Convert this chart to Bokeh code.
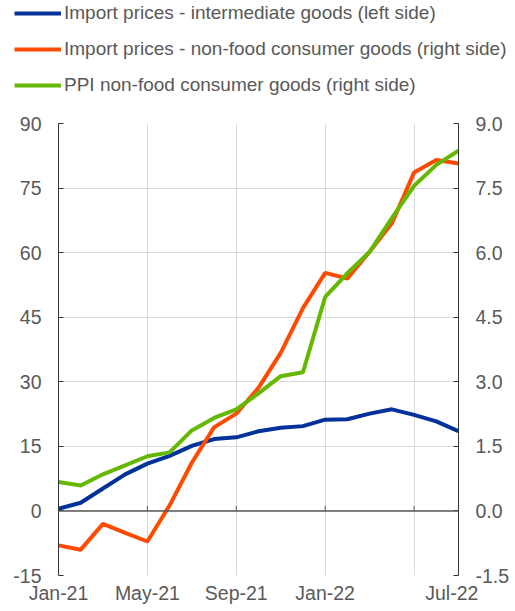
from bokeh.plotting import figure
from bokeh.layouts import column
from bokeh.models import (Range1d, LinearAxis, FixedTicker, PrintfTickFormatter, Legend,
                          LegendItem, Span)
from bokeh.embed import file_html
from bokeh.resources import INLINE

months = ["Jan-21", "Feb-21", "Mar-21", "Apr-21", "May-21", "Jun-21", "Jul-21", "Aug-21",
          "Sep-21", "Oct-21", "Nov-21", "Dec-21", "Jan-22", "Feb-22", "Mar-22", "Apr-22",
          "May-22", "Jun-22", "Jul-22"]

# left axis
import_intermediate = [0.5, 1.9, 5.2, 8.5, 11.0, 12.8, 15.1, 16.7, 17.1, 18.5, 19.3, 19.7,
                       21.2, 21.3, 22.6, 23.6, 22.3, 20.8, 18.5]
# right axis
import_nonfood = [-0.80, -0.90, -0.30, -0.51, -0.71, 0.13, 1.12, 1.94, 2.26, 2.86, 3.67, 4.71,
                  5.53, 5.40, 6.02, 6.68, 7.86, 8.15, 8.07]
ppi_nonfood = [0.67, 0.59, 0.85, 1.06, 1.27, 1.36, 1.87, 2.16, 2.36, 2.73, 3.13, 3.22,
               4.97, 5.52, 6.02, 6.80, 7.55, 8.04, 8.37]

left_ticks = [-15, 0, 15, 30, 45, 60, 75, 90]
right_ticks = [-1.5, 0.0, 1.5, 3.0, 4.5, 6.0, 7.5, 9.0]
grid_months = [0, 4, 8, 12, 16]
label_months = [0, 4, 8, 12]

series_names = ["Import prices - intermediate goods (left side)",
                "Import prices - non-food consumer goods (right side)",
                "PPI non-food consumer goods (right side)"]
colors = ["#003299", "#FF4B00", "#65B800"]
series = [import_intermediate, import_nonfood, ppi_nonfood]

FONT = "Liberation Sans"
TXT = "#595959"
FS = "19.5px"
LFS = "19px"
AX = "#333333"

x = list(range(len(months)))

# ---------------- legend strip ----------------
LEG_H = 100
leg = figure(width=515, height=LEG_H, x_range=Range1d(0, 1), y_range=Range1d(1000, 1001),
             x_axis_type=None, y_axis_type=None, output_backend="svg", toolbar_location=None,
             min_border=0, min_border_left=0, min_border_right=0, min_border_top=0,
             min_border_bottom=0)
leg.frame_align = False
leg.outline_line_color = None
leg.grid.visible = False
# the series are drawn out of view here; only their legend glyphs show
leg_r = [leg.line(x, s, line_color=c, line_width=4) for s, c in zip(series, colors)]
legend = Legend(items=[LegendItem(label=n, renderers=[r]) for n, r in zip(series_names, leg_r)],
                location=(14, 4), orientation="vertical",
                glyph_width=47, glyph_height=20, label_height=20, label_standoff=3,
                spacing=14, padding=0, margin=0,
                border_line_color=None, background_fill_alpha=0,
                label_text_font=FONT, label_text_font_size=LFS, label_text_color=TXT)
leg.add_layout(legend, "center")

# ---------------- main chart ----------------
p = figure(width=515, height=611 - LEG_H, x_range=Range1d(0, len(months) - 1),
           y_range=Range1d(left_ticks[0], left_ticks[-1]),
           output_backend="svg", toolbar_location=None,
           min_border_left=58, min_border_right=57, min_border_top=23, min_border_bottom=36)
p.frame_align = False
p.outline_line_color = None
p.extra_y_ranges = {"right": Range1d(right_ticks[0], right_ticks[-1])}

p.xgrid.ticker = FixedTicker(ticks=grid_months)
p.ygrid.ticker = FixedTicker(ticks=left_ticks)
p.grid.grid_line_color = "#d9d9d9"
p.grid.grid_line_width = 1

ly = p.yaxis[0]
ly.ticker = FixedTicker(ticks=left_ticks)
ly.major_label_overrides = {t: str(t) for t in left_ticks}
ly.axis_line_color = AX
ly.major_tick_line_color = AX
ly.major_tick_in = 5
ly.major_tick_out = 0
ly.minor_tick_line_color = None
ly.major_label_standoff = 17
ly.major_label_text_font = FONT
ly.major_label_text_font_size = FS
ly.major_label_text_color = TXT

ry = LinearAxis(y_range_name="right", ticker=FixedTicker(ticks=right_ticks),
                formatter=PrintfTickFormatter(format="%.1f"))
ry.major_label_overrides = {t: "%.1f" % t for t in right_ticks}
ry.axis_line_color = AX
ry.major_tick_line_color = AX
ry.major_tick_in = 5
ry.major_tick_out = 0
ry.minor_tick_line_color = None
ry.major_label_standoff = 17
ry.major_label_text_font = FONT
ry.major_label_text_font_size = FS
ry.major_label_text_color = TXT
p.add_layout(ry, "right")

bx = p.xaxis[0]
last_pos = len(months) - 1.3
bx.ticker = FixedTicker(ticks=label_months + [last_pos])
overrides = {m: months[m] for m in label_months}
overrides[last_pos] = months[-1]
bx.major_label_overrides = overrides
bx.axis_line_color = None
bx.major_tick_line_color = None
bx.major_tick_in = 0
bx.major_tick_out = 0
bx.minor_tick_line_color = None
bx.minor_tick_out = 0
bx.major_label_standoff = 6
bx.major_label_text_font = FONT
bx.major_label_text_font_size = FS
bx.major_label_text_color = TXT

# zero line with small upward ticks
p.add_layout(Span(location=0, dimension="width", line_color="#595959", line_width=1.5))
p.ray(x=grid_months, y=[0] * len(grid_months), length=5, length_units="screen",
      angle=90, angle_units="deg", line_color="#595959", line_width=1)

p.line(x, import_intermediate, line_color=colors[0], line_width=4)
p.line(x, import_nonfood, line_color=colors[1], line_width=4, y_range_name="right")
p.line(x, ppi_nonfood, line_color=colors[2], line_width=4, y_range_name="right")

layout = column(leg, p, spacing=0)
open("out.html", "w").write(file_html(layout, INLINE))
